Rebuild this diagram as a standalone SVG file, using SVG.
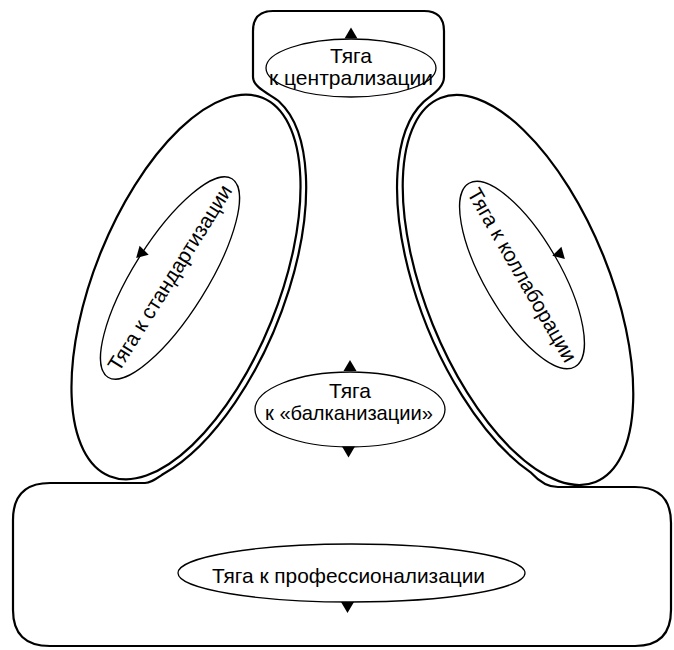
<svg xmlns="http://www.w3.org/2000/svg" width="674" height="650" viewBox="0 0 674 650">
<style>
.bold{fill:none;stroke:#000;stroke-width:2.2;stroke-linejoin:round}
.thin{fill:none;stroke:#000;stroke-width:1.3}
.t{font-family:"Liberation Sans",Arial,sans-serif;font-size:21px;fill:#000;text-anchor:middle}
</style>
<defs>
<path id="tri" d="M0,-5.5 L6.5,5.5 L-6.5,5.5 Z" fill="#000"/>
</defs>
<rect width="674" height="650" fill="#fff"/>
<g id="frame">
<path class="bold" d="M253,77 L253,31 Q253,11 273,11 L424,11 Q444,11 444,31 L444,77 C444,88 431.5,95 423.6,101.9 A98 213 -22 0 0 531.3,472.9 C536,478 545,487 558,487 L635,487 Q671,487 671,523 L671,610 Q671,646 635,646 L50,646 Q13,646 13,610 L13,520 Q13,483 50,483 L145,483 C150,483 154.3,479.9 163.3,474 A98 210 22 0 0 279.3,101.7 C272,95 253,88 253,77 Z"/>
</g>
<g id="left-area">
<ellipse class="bold" cx="186" cy="287" rx="92" ry="204" transform="rotate(22 186 287)"/>
</g>
<g id="right-area">
<ellipse class="bold" cx="518" cy="290" rx="92" ry="207" transform="rotate(-22 518 290)"/>
</g>
<g id="centralization">
<ellipse class="thin" cx="351" cy="68" rx="85" ry="29"/>
<text class="t" x="351" y="63">Тяга</text>
<text class="t" x="351" y="85" textLength="164" lengthAdjust="spacingAndGlyphs">к централизации</text>
</g>
<g id="standardization">
<ellipse class="thin" cx="170" cy="278" rx="117" ry="37" transform="rotate(-58 170 278)"/>
<text class="t" transform="translate(170,278) rotate(-58)" x="0" y="7" textLength="215" lengthAdjust="spacingAndGlyphs">Тяга к стандартизации</text>
</g>
<g id="collaboration">
<ellipse class="thin" cx="522" cy="275" rx="106" ry="38" transform="rotate(60 522 275)"/>
<text class="t" transform="translate(522,275) rotate(60)" x="0" y="7" textLength="197" lengthAdjust="spacingAndGlyphs">Тяга к коллаборации</text>
</g>
<g id="balkanization">
<ellipse class="thin" cx="350" cy="409.5" rx="95" ry="37.5"/>
<text class="t" x="350" y="398">Тяга</text>
<text class="t" x="349" y="420" textLength="168" lengthAdjust="spacingAndGlyphs">к «балканизации»</text>
</g>
<g id="professionalization">
<ellipse class="thin" cx="351.5" cy="573" rx="173.5" ry="29"/>
<text class="t" x="348.5" y="583" textLength="273" lengthAdjust="spacingAndGlyphs">Тяга к профессионализации</text>
</g>
<g id="connectors">
<use href="#tri" transform="translate(351,33)"/>
<use href="#tri" transform="translate(141,251) rotate(-15)"/>
<use href="#tri" transform="translate(560,252) rotate(15)"/>
<use href="#tri" transform="translate(350,365.5)"/>
<use href="#tri" transform="translate(348.5,452) rotate(180)"/>
<use href="#tri" transform="translate(347.5,607.5) rotate(180)"/>
</g>
</svg>
